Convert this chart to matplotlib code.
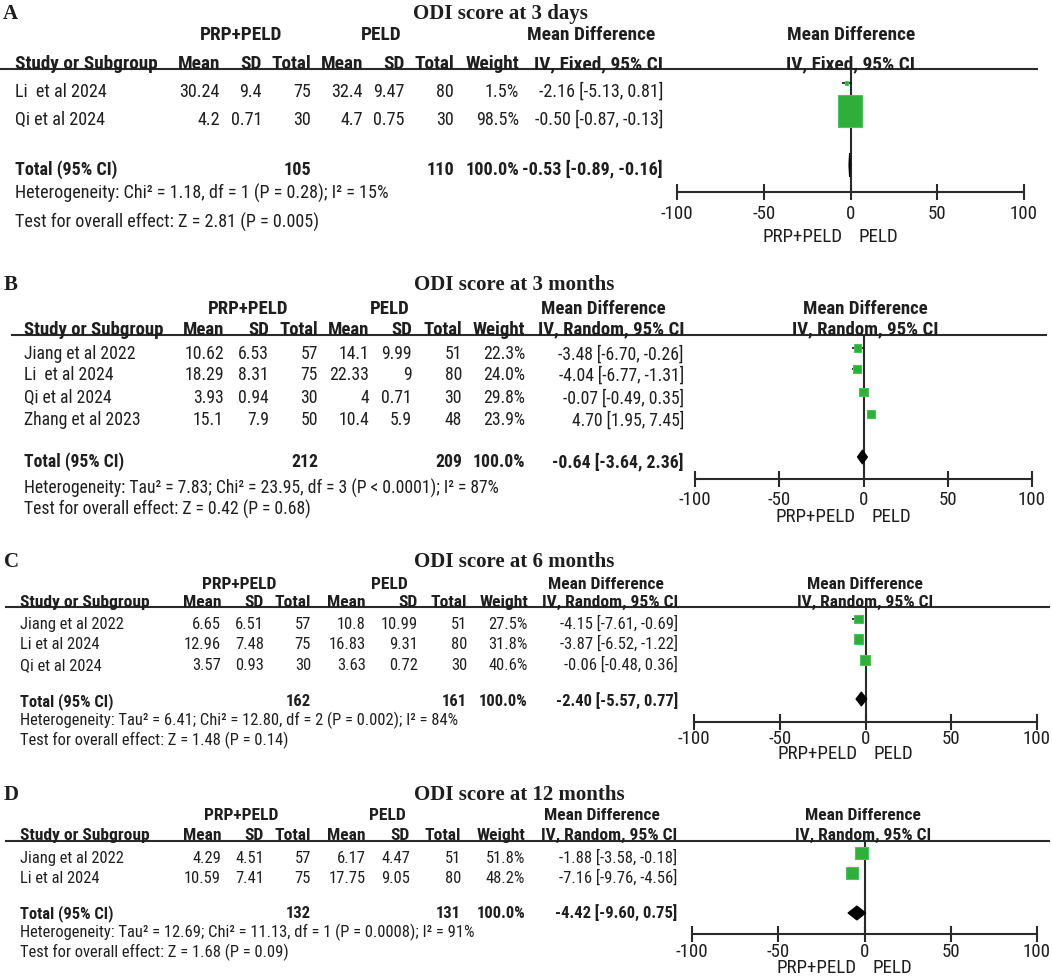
import matplotlib
matplotlib.use('Agg')
import matplotlib.pyplot as plt
from matplotlib import font_manager as fm
from matplotlib.patches import Rectangle, Polygon
import numpy as np
import os
import re
import math

plt.rcParams['axes.unicode_minus'] = False

# ---------------- data ----------------
forest_ticks = [-100, -50, 0, 50, 100]

A_title = "ODI score at 3 days"
A_method = "IV, Fixed, 95% CI"
A_studies = ["Li  et al 2024", "Qi et al 2024"]
A_exp_mean = [30.24, 4.2]
A_exp_sd = [9.4, 0.71]
A_exp_n = [75, 30]
A_ctl_mean = [32.4, 4.7]
A_ctl_sd = [9.47, 0.75]
A_ctl_n = [80, 30]
A_weight = [1.5, 98.5]
A_md = [-2.16, -0.50]
A_lo = [-5.13, -0.87]
A_hi = [0.81, -0.13]
A_total = [-0.53, -0.89, -0.16]
A_total_weight = 100.0
A_het = "Heterogeneity: Chi\u00b2 = 1.18, df = 1 (P = 0.28); I\u00b2 = 15%"
A_test = "Test for overall effect: Z = 2.81 (P = 0.005)"

B_title = "ODI score at 3 months"
B_method = "IV, Random, 95% CI"
B_studies = ["Jiang et al 2022", "Li  et al 2024", "Qi et al 2024", "Zhang et al 2023"]
B_exp_mean = [10.62, 18.29, 3.93, 15.1]
B_exp_sd = [6.53, 8.31, 0.94, 7.9]
B_exp_n = [57, 75, 30, 50]
B_ctl_mean = [14.1, 22.33, 4, 10.4]
B_ctl_sd = [9.99, 9, 0.71, 5.9]
B_ctl_n = [51, 80, 30, 48]
B_weight = [22.3, 24.0, 29.8, 23.9]
B_md = [-3.48, -4.04, -0.07, 4.70]
B_lo = [-6.70, -6.77, -0.49, 1.95]
B_hi = [-0.26, -1.31, 0.35, 7.45]
B_total = [-0.64, -3.64, 2.36]
B_total_weight = 100.0
B_het = "Heterogeneity: Tau\u00b2 = 7.83; Chi\u00b2 = 23.95, df = 3 (P < 0.0001); I\u00b2 = 87%"
B_test = "Test for overall effect: Z = 0.42 (P = 0.68)"

C_title = "ODI score at 6 months"
C_method = "IV, Random, 95% CI"
C_studies = ["Jiang et al 2022", "Li et al 2024", "Qi et al 2024"]
C_exp_mean = [6.65, 12.96, 3.57]
C_exp_sd = [6.51, 7.48, 0.93]
C_exp_n = [57, 75, 30]
C_ctl_mean = [10.8, 16.83, 3.63]
C_ctl_sd = [10.99, 9.31, 0.72]
C_ctl_n = [51, 80, 30]
C_weight = [27.5, 31.8, 40.6]
C_md = [-4.15, -3.87, -0.06]
C_lo = [-7.61, -6.52, -0.48]
C_hi = [-0.69, -1.22, 0.36]
C_total = [-2.40, -5.57, 0.77]
C_total_weight = 100.0
C_het = "Heterogeneity: Tau\u00b2 = 6.41; Chi\u00b2 = 12.80, df = 2 (P = 0.002); I\u00b2 = 84%"
C_test = "Test for overall effect: Z = 1.48 (P = 0.14)"

D_title = "ODI score at 12 months"
D_method = "IV, Random, 95% CI"
D_studies = ["Jiang et al 2022", "Li et al 2024"]
D_exp_mean = [4.29, 10.59]
D_exp_sd = [4.51, 7.41]
D_exp_n = [57, 75]
D_ctl_mean = [6.17, 17.75]
D_ctl_sd = [4.47, 9.05]
D_ctl_n = [51, 80]
D_weight = [51.8, 48.2]
D_md = [-1.88, -7.16]
D_lo = [-3.58, -9.76]
D_hi = [-0.18, -4.56]
D_total = [-4.42, -9.60, 0.75]
D_total_weight = 100.0
D_het = "Heterogeneity: Tau\u00b2 = 12.69; Chi\u00b2 = 11.13, df = 1 (P = 0.0008); I\u00b2 = 91%"
D_test = "Test for overall effect: Z = 1.68 (P = 0.09)"

panels_data = [
    dict(letter="A", title=A_title, method=A_method, studies=A_studies, em=A_exp_mean, esd=A_exp_sd,
         en=A_exp_n, cm=A_ctl_mean, csd=A_ctl_sd, cn=A_ctl_n, w=A_weight, md=A_md, lo=A_lo, hi=A_hi,
         tot=A_total, totw=A_total_weight, het=A_het, test=A_test),
    dict(letter="B", title=B_title, method=B_method, studies=B_studies, em=B_exp_mean, esd=B_exp_sd,
         en=B_exp_n, cm=B_ctl_mean, csd=B_ctl_sd, cn=B_ctl_n, w=B_weight, md=B_md, lo=B_lo, hi=B_hi,
         tot=B_total, totw=B_total_weight, het=B_het, test=B_test),
    dict(letter="C", title=C_title, method=C_method, studies=C_studies, em=C_exp_mean, esd=C_exp_sd,
         en=C_exp_n, cm=C_ctl_mean, csd=C_ctl_sd, cn=C_ctl_n, w=C_weight, md=C_md, lo=C_lo, hi=C_hi,
         tot=C_total, totw=C_total_weight, het=C_het, test=C_test),
    dict(letter="D", title=D_title, method=D_method, studies=D_studies, em=D_exp_mean, esd=D_exp_sd,
         en=D_exp_n, cm=D_ctl_mean, csd=D_ctl_sd, cn=D_ctl_n, w=D_weight, md=D_md, lo=D_lo, hi=D_hi,
         tot=D_total, totw=D_total_weight, het=D_het, test=D_test),
]

# ---------------- layout (pixels) ----------------
layouts = [
    dict(hdr_w=143, letter_x=3, title_x=500, title_y=12, h1_y=33, h2_y=62, line_y=69, line_x0=0, line_x1=1038,
         rows=[90, 118], total_y=168, het_y=192, test_y=221, name_x=15, g1_x=241, g2_x=381, md_x=591,
         cols=[220, 262, 311, 363, 405, 454, 519, 663],
         xm100=677, x100=1024, axis_y=192, tick_pad=4, lab_y=237, fh_x=851,
         sq_off=-7, k=2.4, aspect=1.33, dia_off=-3, dia_h=24),
    dict(hdr_w=139, letter_x=4, title_x=514, title_y=283, h1_y=307, h2_y=328, line_y=335, line_x0=11, line_x1=1047,
         rows=[353, 374, 397, 419], total_y=461, het_y=487, test_y=508, name_x=24, g1_x=248, g2_x=390, md_x=603,
         cols=[224, 269, 318, 369, 412, 462, 525, 684],
         xm100=695, x100=1032, axis_y=479, tick_pad=3, lab_y=517, fh_x=865,
         sq_off=-5, k=1.63, aspect=1.0, dia_off=-4, dia_h=14),
    dict(hdr_w=130, letter_x=4, title_x=514, title_y=560, h1_y=583, h2_y=601, line_y=607, line_x0=5, line_x1=1050,
         rows=[623, 643, 664], total_y=700, het_y=719, test_y=739, name_x=20, g1_x=239, g2_x=389, md_x=606,
         cols=[221, 264, 311, 366, 418, 467, 528, 678],
         xm100=694, x100=1037, axis_y=722, tick_pad=0, lab_y=754, fh_x=865,
         sq_off=-4, k=1.6, aspect=1.0, dia_off=-1, dia_h=14),
    dict(hdr_w=130, letter_x=4, title_x=519, title_y=793, h1_y=814, h2_y=834, line_y=841, line_x0=5, line_x1=1050,
         rows=[857, 877], total_y=912, het_y=931, test_y=951, name_x=20, g1_x=241, g2_x=387, md_x=602,
         cols=[221, 264, 311, 366, 410, 461, 525, 677],
         xm100=692, x100=1037, axis_y=934, tick_pad=1, lab_y=968, fh_x=863,
         sq_off=-4, k=1.8, aspect=1.0, dia_off=1, dia_h=14),
]

W, H = 1052, 976
TXT = '#1e1e1e'
LINE = '#2a2a2a'
GREEN = '#2fae3b'
GREEN_EDGE = '#4cc257'
REG_SCALE = 0.94

fig = plt.figure(figsize=(W / 100, H / 100), dpi=100)
renderer = fig.canvas.get_renderer()


# ---------------- font selection (narrow sans, like Arial Narrow) ----------------
def wnum(e):
    w = e.weight
    if isinstance(w, str):
        w = fm.weight_dict.get(w, 400)
    return w


def text_width(fp, s, size=10):
    f = fp.copy()
    f.set_size(size)
    t = fig.text(0, 0, s, fontproperties=f)
    bb = t.get_window_extent(renderer)
    t.remove()
    return bb.width


weight_re = re.compile(r'(Thin|ExtraLight|Light|Regular|Book|Medium|SemiBold|DemiBold|ExtraBold|Bold|Black|Heavy|Italic|Oblique)+$', re.I)
groups = {}
for e in fm.fontManager.ttflist:
    if e.style != 'normal':
        continue
    base = os.path.splitext(os.path.basename(e.fname))[0]
    if '-' in base:
        pre, suf = base.split('-', 1)
    else:
        pre, suf = base, ''
    key = pre + weight_re.sub('', suf)
    low = key.lower()
    if not ('narrow' in low or 'condensed' in low or key in ('LiberationSans', 'Arial')):
        continue
    if 'mono' in low or 'serif' in low:
        continue
    groups.setdefault(key, []).append(e)

cands = []
for key, ents in groups.items():
    reg = min(ents, key=lambda e: abs(wnum(e) - 400))
    bold = min(ents, key=lambda e: abs(wnum(e) - 700))
    if wnum(bold) < 600 or wnum(reg) > 500:
        continue
    cands.append((key, fm.FontProperties(fname=reg.fname), fm.FontProperties(fname=bold.fname)))
if not cands:
    cands.append(('fallback', fm.FontProperties(family='Liberation Sans'),
                  fm.FontProperties(family='Liberation Sans', weight='bold')))

# Arial Narrow Bold "Study or Subgroup" at 10 pt is about 103 px wide
best = None
for key, fr, fb in cands:
    w10 = text_width(fb, 'Study or Subgroup')
    score = abs(math.log(w10 / 103.0))
    if best is None or score < best[0]:
        best = (score, key, fr, fb, w10)
_, FONT_KEY, FP_R, FP_B, W10 = best
W10_LAB = text_width(FP_R, 'PRP+PELD')
LAB_FS = 10 * 80.0 / W10_LAB
SERIF = 'Liberation Serif'

bg = fig.add_axes([0, 0, 1, 1])
bg.set_xlim(0, W)
bg.set_ylim(H, 0)
bg.axis('off')


def T(x, y, s, ha='left', size=14, bold=False, color=TXT, ax=None, capfrac=0.36, serif=False):
    em = size / 72 * 100
    if serif:
        kw = dict(family=SERIF, fontweight='bold' if bold else 'normal', fontsize=size)
    else:
        fp = (FP_B if bold else FP_R).copy()
        fp.set_size(size)
        kw = dict(fontproperties=fp)
    (ax or bg).text(x, y + capfrac * em, s, ha=ha, va='baseline', color=color, **kw)


def fmt(v):
    return f"{v:g}"


def ci_str(m, l, h):
    return f"{m:.2f} [{l:.2f}, {h:.2f}]"


for P, L in zip(panels_data, layouts):
    fs = 10 * L['hdr_w'] / W10
    fr = fs * REG_SCALE
    T(L['letter_x'], L['title_y'], P['letter'], size=15, bold=True, serif=True, capfrac=0.33)
    T(L['title_x'], L['title_y'], P['title'], ha='center', size=15, bold=True, serif=True, capfrac=0.33)
    T(L['g1_x'], L['h1_y'], 'PRP+PELD', ha='center', size=fs, bold=True)
    T(L['g2_x'], L['h1_y'], 'PELD', ha='center', size=fs, bold=True)
    T(L['md_x'], L['h1_y'], 'Mean Difference', ha='center', size=fs, bold=True)
    T(L['name_x'], L['h2_y'], 'Study or Subgroup', size=fs, bold=True)
    heads = ['Mean', 'SD', 'Total', 'Mean', 'SD', 'Total', 'Weight', P['method']]
    for lab, x in zip(heads, L['cols']):
        T(x, L['h2_y'], lab, ha='right', size=fs, bold=True)
    bg.plot([L['line_x0'], L['line_x1']], [L['line_y'], L['line_y']], color=LINE, lw=1.5,
            solid_capstyle='butt')

    for i, y in enumerate(L['rows']):
        T(L['name_x'], y, P['studies'][i], size=fr)
        vals = [fmt(P['em'][i]), fmt(P['esd'][i]), str(P['en'][i]), fmt(P['cm'][i]),
                fmt(P['csd'][i]), str(P['cn'][i]), f"{P['w'][i]:.1f}%",
                ci_str(P['md'][i], P['lo'][i], P['hi'][i])]
        for v, x in zip(vals, L['cols']):
            T(x, y, v, ha='right', size=fr)

    ty = L['total_y']
    T(L['name_x'], ty, 'Total (95% CI)', size=fr, bold=True)
    T(L['cols'][2], ty, str(sum(P['en'])), ha='right', size=fr, bold=True)
    T(L['cols'][5], ty, str(sum(P['cn'])), ha='right', size=fr, bold=True)
    T(L['cols'][6], ty, f"{P['totw']:.1f}%", ha='right', size=fr, bold=True)
    T(L['cols'][7], ty, ci_str(*P['tot']), ha='right', size=fr, bold=True)
    T(L['name_x'], L['het_y'], P['het'], size=fr)
    T(L['name_x'], L['test_y'], P['test'], size=fr)

    # forest header
    T(L['fh_x'], L['h1_y'], 'Mean Difference', ha='center', size=fs, bold=True)
    T(L['fh_x'], L['h2_y'], P['method'], ha='center', size=fs, bold=True)

    # forest axes
    ax = fig.add_axes([L['xm100'] / W, 1 - L['axis_y'] / H, (L['x100'] - L['xm100']) / W,
                       (L['axis_y'] - L['line_y']) / H])
    ax.set_xlim(forest_ticks[0], forest_ticks[-1])
    ax.set_ylim(L['axis_y'], L['line_y'])
    ax.patch.set_alpha(0)
    for s in ['top', 'left', 'right']:
        ax.spines[s].set_visible(False)
    ax.spines['bottom'].set_linewidth(1.5)
    ax.spines['bottom'].set_color(LINE)
    ax.set_yticks([])
    ax.set_xticks(forest_ticks)
    ax.set_xticklabels([str(t) for t in forest_ticks])
    ax.tick_params(axis='x', direction='inout', length=11, width=1.5, color=LINE, pad=L['tick_pad'],
                   labelcolor=TXT)
    tfp = FP_R.copy()
    tfp.set_size(LAB_FS)
    for lbl in ax.get_xticklabels():
        lbl.set_fontproperties(tfp)
    ax.axvline(0, color=LINE, lw=1.5, zorder=1)

    ppu = (L['x100'] - L['xm100']) / (forest_ticks[-1] - forest_ticks[0])
    for i, y in enumerate(L['rows']):
        yc = y + L['sq_off']
        ax.plot([P['lo'][i], P['hi'][i]], [yc, yc], color='#111111', lw=1.2, zorder=2,
                solid_capstyle='butt')
        side = L['k'] * np.sqrt(P['w'][i])
        wd = side / ppu
        ht = side * L['aspect']
        ax.add_patch(Rectangle((P['md'][i] - wd / 2, yc - ht / 2), wd, ht, facecolor=GREEN,
                               edgecolor=GREEN_EDGE, lw=0.8, zorder=3))
    m, lo, hi = P['tot']
    yd = ty + L['dia_off']
    hh = L['dia_h'] / 2
    ax.add_patch(Polygon([(lo, yd), (m, yd - hh), (hi, yd), (m, yd + hh)], closed=True,
                         facecolor='black', edgecolor='black', lw=0.8, zorder=4))
    # group labels under axis
    ax.annotate('PRP+PELD', xy=(0, L['lab_y']), xycoords='data', xytext=(-6, 0),
                textcoords='offset points', ha='right', va='center', color=TXT,
                annotation_clip=False, fontproperties=tfp)
    ax.annotate('PELD', xy=(0, L['lab_y']), xycoords='data', xytext=(6, 0),
                textcoords='offset points', ha='left', va='center', color=TXT,
                annotation_clip=False, fontproperties=tfp)

fig.savefig('out.png', dpi=100)
